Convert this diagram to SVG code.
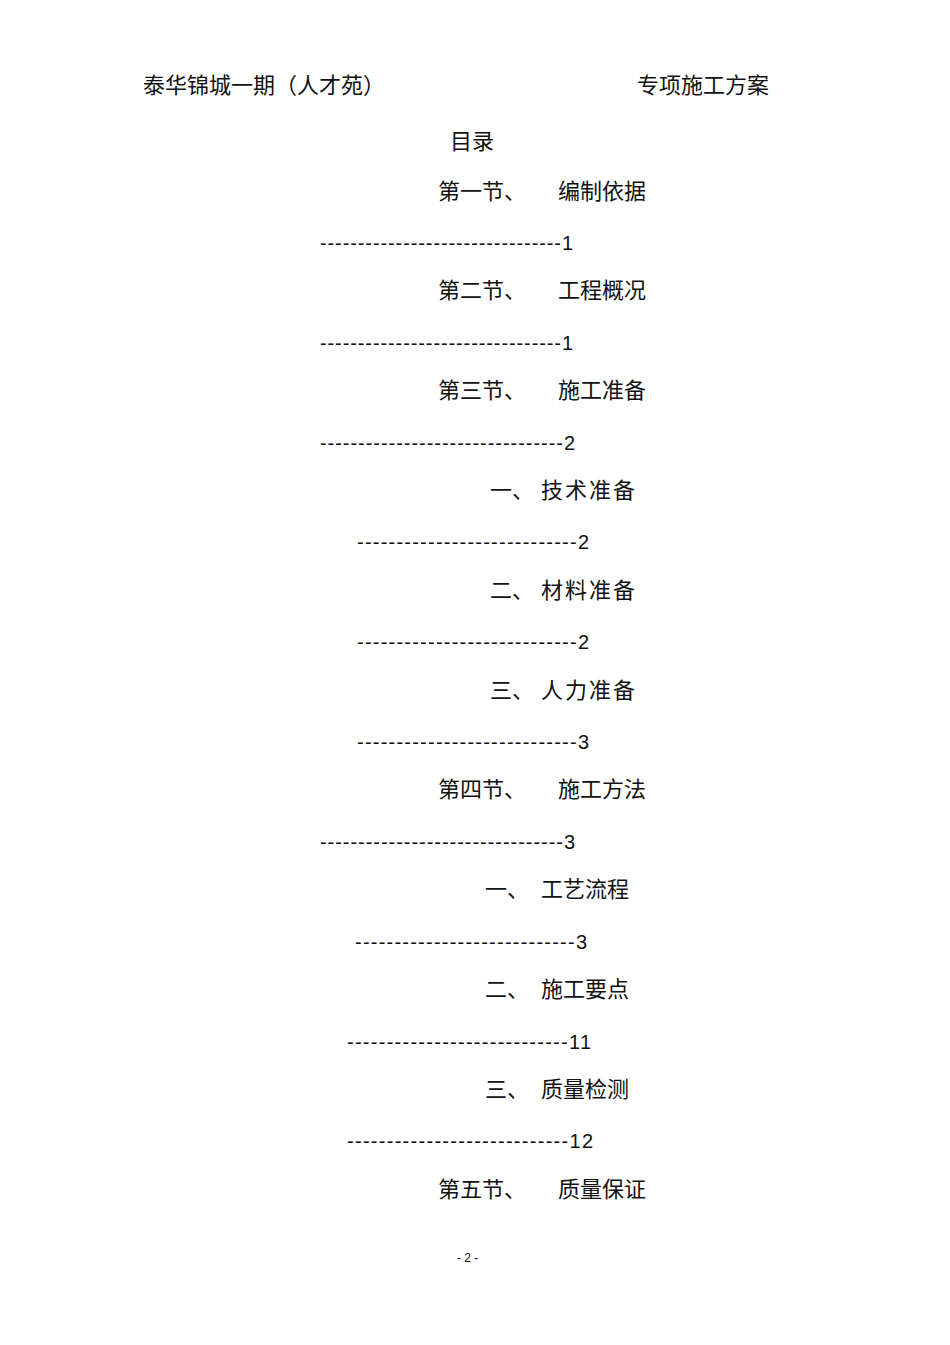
<svg xmlns="http://www.w3.org/2000/svg" width="950" height="1345" viewBox="0 0 950 1345">
<style>
text{font-family:"Liberation Serif","Noto Sans CJK SC",serif;font-size:22px;fill:#111}
.d{font-family:"Liberation Sans","Noto Sans CJK SC",sans-serif;font-size:20px}
.f{font-family:"Liberation Sans",sans-serif;font-size:12px}
</style>
<rect width="950" height="1345" fill="#fff"/>
<text x="143" y="93">泰华锦城一期（人才苑）</text>
<text x="637" y="93">专项施工方案</text>
<text x="450" y="149">目录</text>
<text x="438" y="199">第一节、</text><text x="558" y="199">编制依据</text>
<text class="d" x="320" y="250" textLength="253" lengthAdjust="spacing">--------------------------------1</text>
<text x="438" y="298">第二节、</text><text x="558" y="298">工程概况</text>
<text class="d" x="320" y="350" textLength="253" lengthAdjust="spacing">--------------------------------1</text>
<text x="438" y="398">第三节、</text><text x="558" y="398">施工准备</text>
<text class="d" x="320" y="450" textLength="255" lengthAdjust="spacing">--------------------------------2</text>
<text x="490" y="498">一、</text><text x="541" y="498" textLength="94">技术准备</text>
<text class="d" x="357" y="549" textLength="232" lengthAdjust="spacing">----------------------------2</text>
<text x="490" y="598">二、</text><text x="541" y="598" textLength="94">材料准备</text>
<text class="d" x="357" y="649" textLength="232" lengthAdjust="spacing">----------------------------2</text>
<text x="490" y="698">三、</text><text x="541" y="698" textLength="94">人力准备</text>
<text class="d" x="357" y="749" textLength="232" lengthAdjust="spacing">----------------------------3</text>
<text x="438" y="797">第四节、</text><text x="558" y="797">施工方法</text>
<text class="d" x="320" y="849" textLength="255" lengthAdjust="spacing">--------------------------------3</text>
<text x="485" y="897">一、</text><text x="541" y="897">工艺流程</text>
<text class="d" x="355" y="949" textLength="232" lengthAdjust="spacing">----------------------------3</text>
<text x="485" y="997">二、</text><text x="541" y="997">施工要点</text>
<text class="d" x="347" y="1049" textLength="244" lengthAdjust="spacing">----------------------------11</text>
<text x="485" y="1097">三、</text><text x="541" y="1097">质量检测</text>
<text class="d" x="347" y="1148" textLength="246" lengthAdjust="spacing">----------------------------12</text>
<text x="438" y="1197">第五节、</text><text x="558" y="1197">质量保证</text>
<text class="f" x="457" y="1262">- 2 -</text>
</svg>
